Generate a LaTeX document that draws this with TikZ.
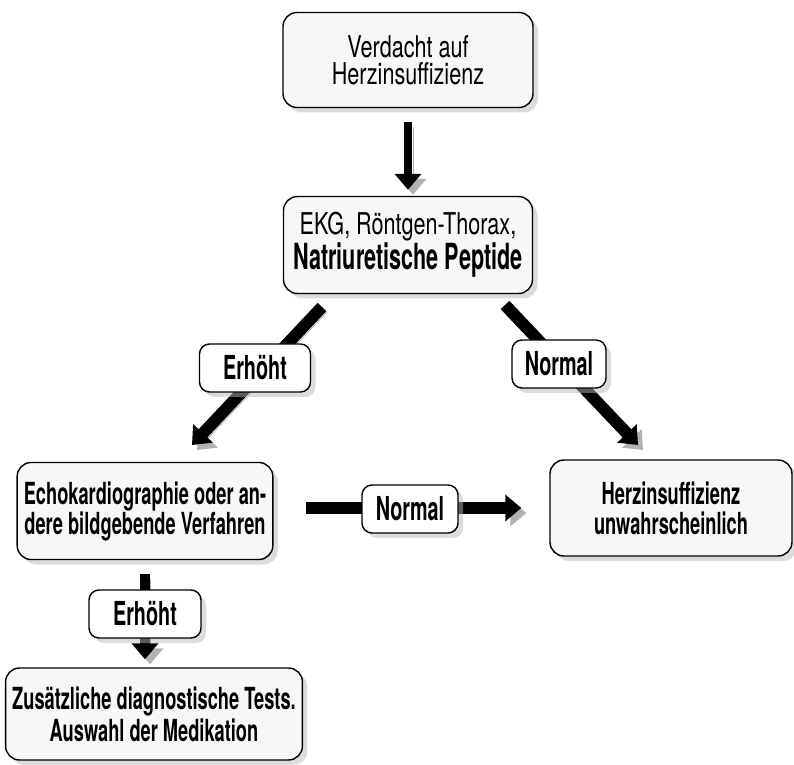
\documentclass[tikz,border=0pt]{standalone}
\usepackage{fontspec}
\setmainfont[FakeStretch=0.72, BoldFont={TeX Gyre Heros Bold}, BoldFeatures={FakeStretch=0.60}]{TeX Gyre Heros}
\usetikzlibrary{arrows.meta,shadows}

\begin{document}
\begin{tikzpicture}[x=0.5pt,y=-0.5pt,
			box/.style={draw=black, line width=0.7pt, rounded corners=7pt, fill=gray!6, align=center,
				drop shadow={shadow xshift=2.5pt, shadow yshift=-2.5pt, fill=gray!55}},
			tag/.style={box, fill=white, rounded corners=5pt, minimum height=24pt, font=\bfseries\fontsize{16.5}{16}\selectfont},
			bigarrow/.style={line width=5pt, -{Triangle[width=13pt,length=8pt]},
				preaction={draw=gray!60, transform canvas={shift={(2.5pt,-2.5pt)}}}}]
			\useasboundingbox (0,0) rectangle (794,765);
			\node[box, minimum width=125pt, minimum height=47.5pt, font=\fontsize{15}{13.5}\selectfont] (verdacht) at (408,60) {Verdacht auf\\Herzinsuffizienz};
			\node[box, minimum width=124.5pt, minimum height=48.5pt, font=\fontsize{15}{15}\selectfont] (ekg) at (408,245) {EKG, Röntgen-Thorax,\\{\bfseries\fontsize{18}{15}\selectfont Natriuretische Peptide}};
			\node[box, minimum width=127.5pt, minimum height=48.5pt, font=\bfseries\fontsize{15.2}{15}\selectfont] (echo) at (145,511) {Echokardiographie oder an-\\dere bildgebende Verfahren};
			\node[box, minimum width=121pt, minimum height=48pt, font=\bfseries\fontsize{15.2}{15}\selectfont] (herz) at (671,508) {Herzinsuffizienz\\unwahrscheinlich};
			\node[box, minimum width=146pt, minimum height=46pt, font=\bfseries\fontsize{15.2}{16}\selectfont] (zusatz) at (154,714) {Zusätzliche diagnostische Tests.\\Auswahl der Medikation};
			\coordinate (erhA) at (322,307);
			\coordinate (erhB) at (192,445);
			\coordinate (normA) at (505,305);
			\coordinate (normB) at (638,445);
			\draw[bigarrow, line width=4pt, shorten <=7pt, shorten >=3pt] (verdacht) -- (ekg);
			\draw[bigarrow, line width=6pt] (erhA) -- (erhB);
			\draw[bigarrow, line width=6pt] (normA) -- (normB);
			\draw[bigarrow, line width=6pt, shorten <=16pt, shorten >=14pt] (echo.east |- herz) -- (herz.west);
			\draw[bigarrow, shorten <=7pt, shorten >=4pt] (echo.south) -- (echo.south |- zusatz.north);
			\node[tag, minimum width=55.5pt] (erhoeht1) at (255,368) {Erhöht};
			\node[tag, minimum width=47pt] (normal1) at (559,364) {Normal};
			\node[tag, minimum width=48pt] (normal2) at (410,509) {Normal};
			\node[tag, minimum width=56pt] (erhoeht2) at (145,614) {Erhöht};
		\end{tikzpicture}
\end{document}
